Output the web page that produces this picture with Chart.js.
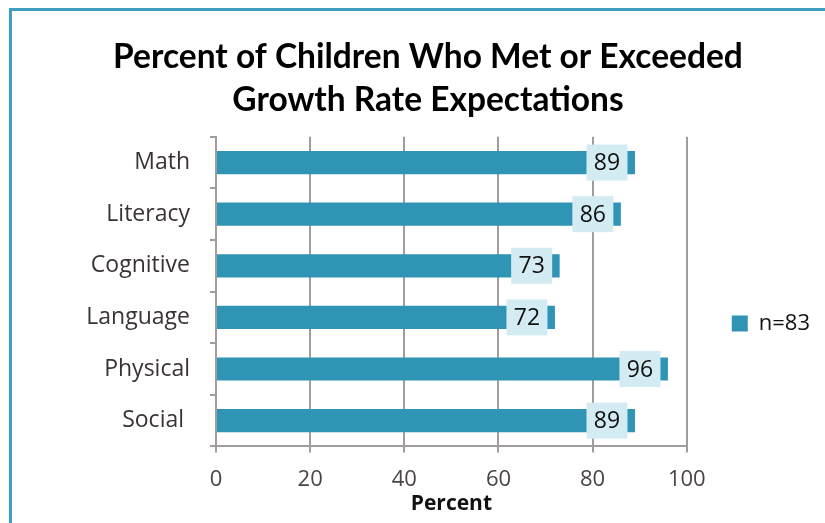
<!DOCTYPE html>
<html>
<head>
<meta charset="utf-8">
<script src="https://cdn.jsdelivr.net/npm/chart.js@4"></script>
<style>
  html, body { margin: 0; padding: 0; background: #fff; overflow: hidden; }
  #wrap { position: relative; width: 825px; height: 523px; }
  #frame { position: absolute; left: 9px; top: 8px; width: 830px; height: 530px;
           border-top: 3px solid #3e9fc0; border-left: 3px solid #3e9fc0; }
  canvas { position: absolute; left: 0; top: 0; }
</style>
</head>
<body>
<div id="wrap">
  <div id="frame"></div>
  <canvas id="growthChart" width="825" height="523"></canvas>
</div>
<script>
var categories = ['Math', 'Literacy', 'Cognitive', 'Language', 'Physical', 'Social '];
var percentMet = [89, 86, 73, 72, 96, 89];
var seriesName = 'n=83';
var titleLines = ['Percent of Children Who Met or Exceeded', 'Growth Rate Expectations'];

var barColor = '#3095b5';
var gridColor = '#a29c9c';

// value boxes sitting just inside the end of each bar
var valueBoxes = {
    id: 'valueBoxes',
    afterDatasetsDraw: function(chart) {
        var ctx = chart.ctx;
        var meta = chart.getDatasetMeta(0);
        ctx.save();
        ctx.font = '23px "Open Sans"';
        ctx.textAlign = 'center';
        ctx.textBaseline = 'middle';
        meta.data.forEach(function(bar, i) {
            var cx = bar.x - 28;
            ctx.fillStyle = '#d3ebf3';
            ctx.fillRect(cx - 20.5, bar.y - 18, 41, 36);
            ctx.fillStyle = '#111';
            ctx.fillText(String(percentMet[i]), cx, bar.y + 1);
        });
        ctx.restore();
    }
};

var ctx = document.getElementById('growthChart').getContext('2d');
var growthChart = new Chart(ctx, {
    type: 'bar',
    data: {
        labels: categories,
        datasets: [{
            label: seriesName,
            data: percentMet,
            backgroundColor: barColor,
            categoryPercentage: 0.9,
            barPercentage: 0.5
        }]
    },
    options: {
        indexAxis: 'y',
        responsive: false,
        animation: false,
        layout: { padding: { left: 36, right: 5, top: 0, bottom: 6 } },
        plugins: {
            title: {
                display: true,
                text: titleLines,
                color: '#000',
                font: { family: 'Lato', size: 33.5, weight: 'bold', lineHeight: 1.28 },
                padding: { top: 36, bottom: 15 }
            },
            legend: {
                position: 'right',
                align: 'center',
                title: {
                    display: true,
                    text: ' ',
                    font: { size: 10, lineHeight: 1.2 },
                    padding: { top: 59, bottom: 59 }
                },
                labels: {
                    boxWidth: 16,
                    boxHeight: 16,
                    padding: 45,
                    color: '#111',
                    font: { family: 'Open Sans', size: 22 }
                }
            },
            tooltip: { enabled: false }
        },
        scales: {
            x: {
                min: 0,
                max: 100,
                ticks: {
                    stepSize: 20,
                    padding: 14,
                    color: '#4a4444',
                    font: { family: 'Open Sans', size: 22 }
                },
                grid: { color: gridColor, lineWidth: 2, tickLength: 6 },
                border: { color: gridColor, width: 2 },
                title: {
                    display: true,
                    text: 'Percent',
                    color: '#111',
                    font: { family: 'Open Sans', size: 21, weight: 'bold' },
                    padding: { top: -15, bottom: 0 }
                }
            },
            y: {
                afterFit: function(scale) { scale.width = 180; },
                ticks: {
                    padding: 20,
                    color: '#3a3333',
                    font: { family: 'Open Sans', size: 23 }
                },
                grid: { drawOnChartArea: false, color: gridColor, lineWidth: 2, tickLength: 6, offset: true },
                border: { color: gridColor, width: 2 }
            }
        }
    },
    plugins: [valueBoxes]
});
</script>
</body>
</html>
